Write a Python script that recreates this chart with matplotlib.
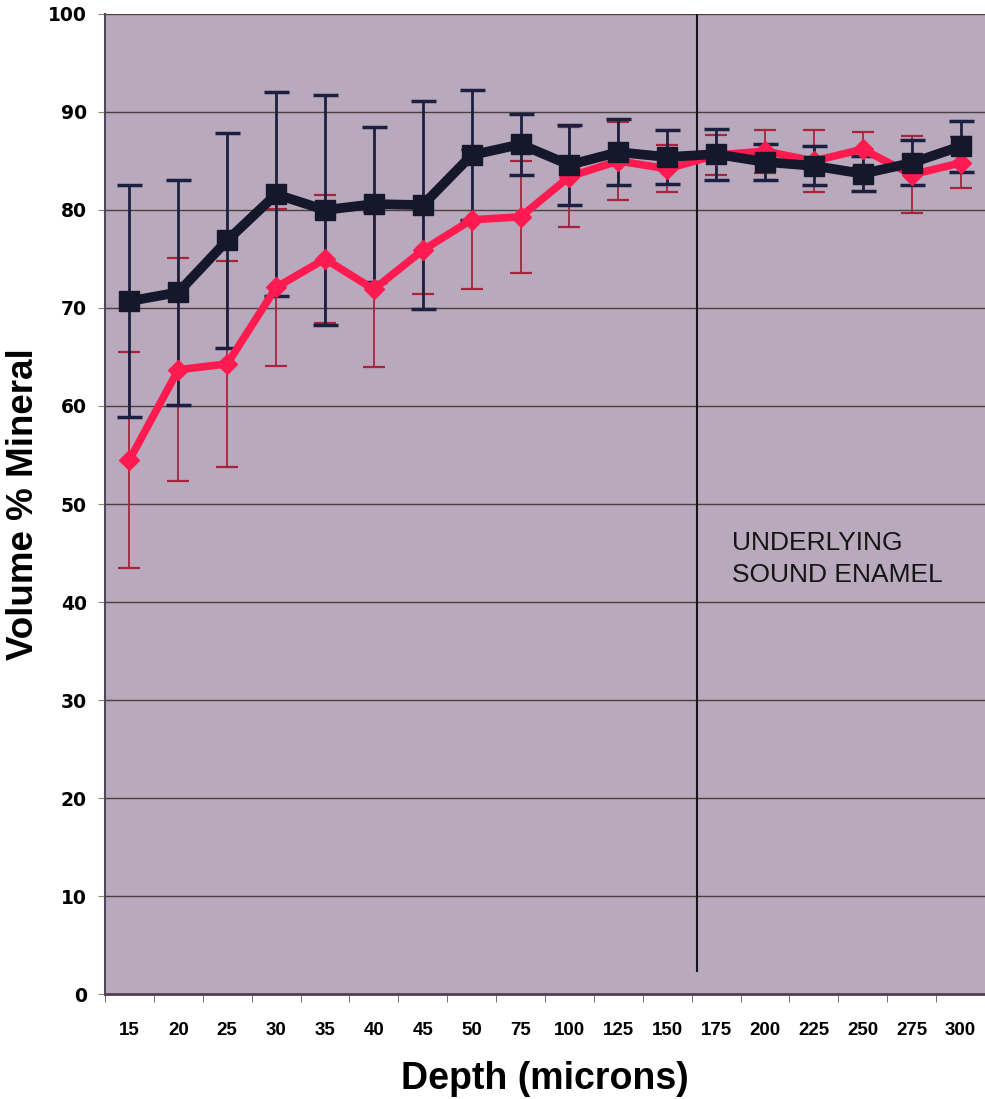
import matplotlib.pyplot as plt
import numpy as np

plt.rcParams['font.family'] = ['Liberation Sans', 'DejaVu Sans']

# depth categories (microns)
depth = ['15', '20', '25', '30', '35', '40', '45', '50', '75', '100',
         '125', '150', '175', '200', '225', '250', '275', '300']

# dark series (squares)
dark_vals = [70.7, 71.6, 76.9, 81.6, 80.0, 80.6, 80.5, 85.6, 86.7, 84.6,
             85.9, 85.4, 85.7, 84.9, 84.5, 83.7, 84.8, 86.5]
dark_err = [11.8, 11.5, 11.0, 10.4, 11.7, 7.9, 10.6, 6.6, 3.1, 4.1,
            3.4, 2.8, 2.6, 1.8, 2.0, 1.8, 2.3, 2.6]

# red series (diamonds)
red_vals = [54.5, 63.7, 64.3, 72.1, 75.0, 71.9, 75.9, 79.0, 79.3, 83.4,
            85.0, 84.2, 85.6, 86.0, 85.0, 86.2, 83.6, 84.8]
red_err = [11.0, 11.4, 10.5, 8.0, 6.5, 7.9, 4.5, 7.1, 5.7, 5.1,
           4.0, 2.4, 2.0, 2.2, 3.2, 1.8, 3.9, 2.6]

x = np.arange(len(depth))

fig = plt.figure(figsize=(9.85, 10.99), dpi=100)
ax = fig.add_axes([0.1066, 0.0955, 0.8934, 0.8918])
ax.set_facecolor('#b8a9bd')

# grid lines
for yv in range(10, 101, 10):
    ax.axhline(yv, color='#4a4040', lw=1.0, zorder=1)

ax.errorbar(x, red_vals, yerr=red_err, fmt='none', ecolor='#a8243a',
            elinewidth=1.3, capsize=8, capthick=1.6, zorder=2)
ax.errorbar(x, dark_vals, yerr=dark_err, fmt='none', ecolor='#1c2040',
            elinewidth=2.0, capsize=9, capthick=2.5, zorder=3)
ax.plot(x, red_vals, color='#ff1a50', lw=5.5, marker='D', markersize=10,
        zorder=4)
ax.plot(x, dark_vals, color='#15172a', lw=7, marker='s', markersize=15,
        zorder=5)

# boundary of sound enamel
ax.plot([11.6, 11.6], [2.4, 100], color='#15151a', lw=1.5, zorder=2)
ax.text(12.33, 44.4, 'UNDERLYING\nSOUND ENAMEL', fontsize=19,
        color='#151515', va='center', ha='left', linespacing=1.4)

ax.set_xlim(-0.5, 17.5)
ax.set_ylim(0, 100)
ax.set_yticks(range(0, 101, 10))
ax.set_yticklabels([str(v) for v in range(0, 101, 10)], fontsize=13.5,
                   fontweight='bold', family='DejaVu Sans')
ax.set_xticks(x)
ax.set_xticklabels(depth, fontsize=13.5, fontweight='bold',
                   family=['Liberation Sans Narrow', 'Liberation Sans'])
ax.set_xticks(np.arange(-0.5, 18, 1), minor=True)
ax.tick_params(axis='x', which='major', length=0, pad=20)
ax.tick_params(axis='x', which='minor', length=6, color='#555555')
ax.tick_params(axis='y', length=5, color='#a08060', pad=8)

for side in ['top', 'right']:
    ax.spines[side].set_visible(False)
ax.spines['left'].set_color('#504858')
ax.spines['left'].set_linewidth(1.5)
ax.spines['bottom'].set_color('#504050')
ax.spines['bottom'].set_linewidth(2)

ax.set_xlabel('Depth (microns)', fontsize=27, fontweight='bold', labelpad=16)
ax.set_ylabel('Volume % Mineral', fontsize=26.5, fontweight='bold', labelpad=5)

fig.savefig('out.png', dpi=100)
